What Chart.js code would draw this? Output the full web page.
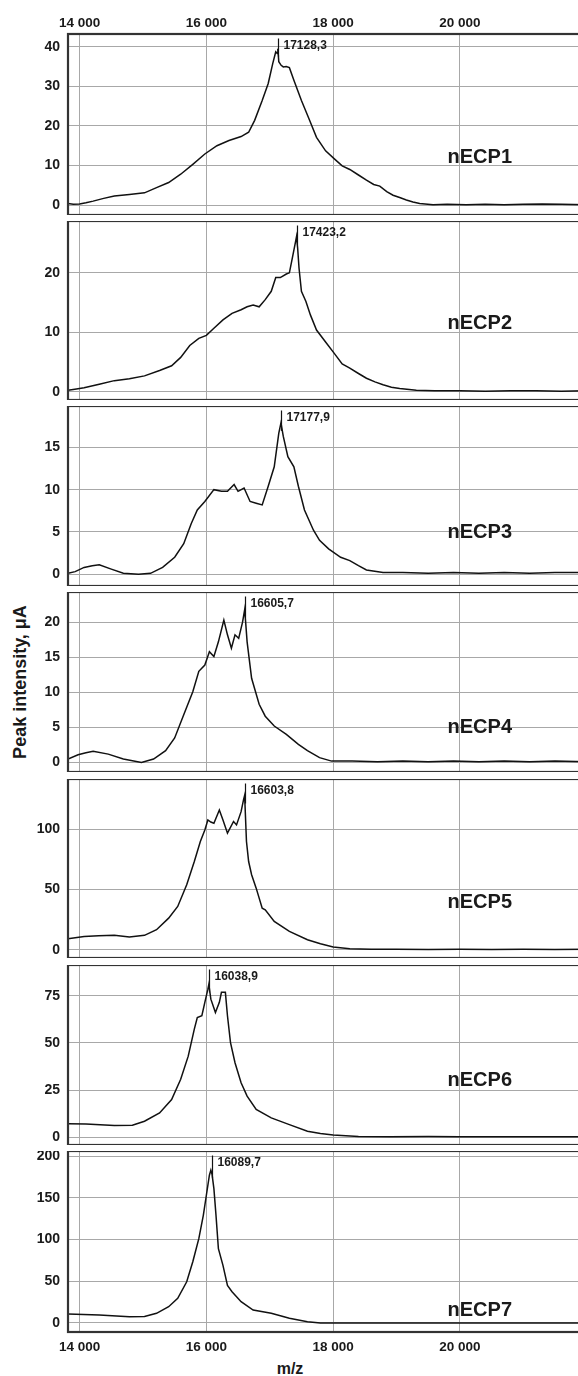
<!DOCTYPE html>
<html>
<head>
<meta charset="utf-8">
<script src="https://cdn.jsdelivr.net/npm/chart.js@4.4.1/dist/chart.umd.min.js"></script>
<style>
  body { margin: 0; background: #fff; }
  #wrap { position: relative; width: 578px; height: 1376px; overflow: hidden; background: #fff; }
  #wrap canvas { position: absolute; left: 0; }
  .lbl { position: absolute; font-family: "Liberation Sans", Arial, sans-serif; font-weight: bold; color: #1a1a1a; white-space: nowrap; }
  #ylabel { left: -130px; top: 672px; width: 300px; height: 20px; line-height: 20px; font-size: 18px; text-align: center; transform: rotate(-90deg); }
  #xlabel { left: 260px; top: 1360px; width: 60px; line-height: 18px; font-size: 16px; text-align: center; }
</style>
</head>
<body>
<div id="wrap">
  <div id="ylabel" class="lbl">Peak intensity, μA</div>
  <div id="xlabel" class="lbl">m/z</div>
</div>
<script>
// spectra (m/z, intensity)
const mz1 = [13817, 13900, 14000, 14100, 14214, 14380, 14548, 14786, 15024, 15214, 15405, 15595, 15786, 15976, 16167, 16357, 16548, 16667, 16762, 16881, 16976, 17048, 17095, 17119, 17128, 17143, 17180, 17214, 17260, 17310, 17381, 17500, 17619, 17738, 17881, 18024, 18143, 18263, 18400, 18526, 18640, 18736, 18846, 18946, 19050, 19156, 19260, 19366, 19576, 19800, 20100, 20400, 20700, 21000, 21300, 21600, 21990];
const int1 = [0.4, 0.2, 0.3, 0.6, 1.0, 1.7, 2.3, 2.7, 3.1, 4.4, 5.7, 7.8, 10.3, 12.9, 15.0, 16.3, 17.3, 18.4, 21.4, 26.4, 30.7, 35.8, 38.7, 38.3, 39.5, 36.2, 35.3, 34.9, 35.0, 34.7, 31.5, 26.4, 21.8, 17.1, 13.7, 11.6, 9.9, 9.0, 7.6, 6.3, 5.2, 4.8, 3.4, 2.5, 1.9, 1.3, 0.8, 0.4, 0.1, 0.2, 0.1, 0.2, 0.1, 0.2, 0.3, 0.2, 0.1];

const mz2 = [13817, 13950, 14071, 14310, 14548, 14786, 15024, 15262, 15452, 15595, 15738, 15881, 16000, 16119, 16262, 16405, 16548, 16643, 16738, 16833, 16929, 17024, 17095, 17167, 17262, 17310, 17357, 17405, 17423, 17440, 17462, 17500, 17571, 17643, 17738, 17881, 18024, 18143, 18263, 18400, 18526, 18660, 18788, 18920, 19051, 19313, 19600, 20000, 20400, 20800, 21200, 21600, 21990];
const int2 = [0.3, 0.5, 0.7, 1.3, 1.9, 2.2, 2.7, 3.6, 4.4, 5.8, 7.8, 9.0, 9.5, 10.7, 12.1, 13.2, 13.8, 14.3, 14.6, 14.3, 15.5, 16.9, 19.2, 19.2, 19.8, 20.0, 22.5, 25.1, 26.1, 24.2, 20.8, 16.9, 15.2, 12.9, 10.4, 8.4, 6.4, 4.7, 4.0, 3.1, 2.3, 1.7, 1.2, 0.8, 0.6, 0.3, 0.2, 0.2, 0.1, 0.2, 0.2, 0.1, 0.2];

const mz3 = [13817, 13930, 14071, 14200, 14310, 14500, 14690, 14929, 15119, 15310, 15500, 15643, 15762, 15857, 15976, 16119, 16238, 16333, 16438, 16500, 16595, 16690, 16786, 16881, 16976, 17071, 17143, 17177, 17214, 17286, 17381, 17452, 17548, 17690, 17786, 17929, 18119, 18263, 18400, 18526, 18788, 19100, 19500, 19900, 20300, 20700, 21100, 21500, 21990];
const int3 = [0.1, 0.3, 0.8, 1.0, 1.1, 0.6, 0.1, 0.0, 0.1, 0.8, 2.0, 3.6, 6.0, 7.6, 8.6, 10.0, 9.8, 9.8, 10.6, 9.8, 10.2, 8.6, 8.4, 8.2, 10.4, 12.7, 16.7, 17.9, 16.3, 13.9, 12.7, 10.4, 7.6, 5.2, 4.0, 3.0, 2.0, 1.6, 1.0, 0.5, 0.2, 0.2, 0.1, 0.2, 0.1, 0.2, 0.1, 0.2, 0.2];

const mz4 = [13817, 13976, 14100, 14214, 14452, 14690, 14976, 15167, 15357, 15500, 15643, 15786, 15881, 15976, 16048, 16119, 16190, 16276, 16333, 16395, 16452, 16510, 16571, 16605, 16643, 16714, 16833, 16929, 17071, 17262, 17452, 17595, 17786, 17976, 18300, 18700, 19100, 19500, 19900, 20300, 20700, 21100, 21500, 21990];
const int4 = [0.5, 1.1, 1.4, 1.6, 1.2, 0.5, 0.0, 0.5, 1.7, 3.5, 6.8, 10.1, 13.0, 13.9, 15.8, 15.1, 17.2, 20.3, 18.2, 16.3, 18.2, 17.7, 20.0, 21.8, 17.2, 12.0, 8.3, 6.6, 5.2, 4.0, 2.6, 1.7, 0.7, 0.2, 0.2, 0.1, 0.2, 0.1, 0.2, 0.1, 0.2, 0.1, 0.2, 0.1];

const mz5 = [13817, 14071, 14300, 14548, 14786, 15024, 15214, 15405, 15548, 15690, 15810, 15905, 15976, 16024, 16070, 16119, 16205, 16262, 16333, 16429, 16476, 16548, 16586, 16604, 16633, 16667, 16714, 16786, 16881, 16929, 17071, 17310, 17595, 17800, 18001, 18263, 18600, 19000, 19500, 20000, 20500, 21000, 21500, 21990];
const int5 = [9.1, 11.0, 11.5, 11.9, 10.5, 11.9, 16.6, 26.2, 35.9, 53.9, 73.2, 89.8, 99.4, 107.7, 106.0, 105.0, 116.0, 107.7, 96.7, 106.4, 103.6, 114.6, 124.3, 128.0, 89.8, 73.2, 62.2, 51.1, 34.5, 33.1, 23.5, 15.2, 8.3, 5.0, 2.2, 0.8, 0.3, 0.3, 0.2, 0.3, 0.2, 0.3, 0.2, 0.3];

const mz6 = [13817, 14100, 14548, 14833, 15024, 15262, 15452, 15595, 15714, 15810, 15857, 15929, 15976, 16024, 16039, 16071, 16143, 16205, 16238, 16300, 16333, 16381, 16452, 16548, 16643, 16786, 17024, 17310, 17595, 17800, 18001, 18400, 18900, 19500, 20000, 20500, 21000, 21500, 21990];
const int6 = [7.2, 7.0, 6.2, 6.4, 8.5, 12.9, 20.0, 30.7, 43.0, 57.3, 63.5, 64.4, 71.5, 78.5, 81.0, 73.2, 66.1, 71.5, 76.8, 76.8, 64.4, 50.2, 39.5, 28.9, 21.8, 14.7, 10.3, 6.7, 3.2, 2.0, 1.2, 0.4, 0.3, 0.4, 0.3, 0.3, 0.3, 0.3, 0.3];

const mz7 = [13817, 14310, 14786, 15024, 15214, 15405, 15548, 15690, 15786, 15881, 15952, 16000, 16048, 16071, 16090, 16119, 16152, 16190, 16262, 16333, 16405, 16548, 16738, 17024, 17310, 17595, 17800, 18200, 18800, 19400, 20000, 20600, 21200, 21990];
const int7 = [10.8, 9.6, 7.5, 7.8, 11.6, 19.5, 29.5, 49.4, 73.3, 101.0, 129.0, 153.0, 177.0, 183.0, 178.0, 161.0, 129.0, 89.0, 69.0, 45.0, 37.5, 25.5, 15.5, 11.6, 5.6, 1.6, 0.0, 0.0, 0.0, 0.0, 0.0, 0.0, 0.0, 0.0];

const sampleNames = ['nECP1', 'nECP2', 'nECP3', 'nECP4', 'nECP5', 'nECP6', 'nECP7'];
const peakMz = [17128.3, 17423.2, 17177.9, 16605.7, 16603.8, 16038.9, 16089.7];
const peakInt = [39.5, 26.1, 17.9, 21.8, 128.0, 81.0, 183.0];
const yMin = [-2.5, -1.35, -1.4, -1.35, -6.9, -4.1, -10.8];
const yMax = [43.2, 28.7, 19.9, 24.3, 141.7, 91.3, 206];
const yTicks1 = [0, 10, 20, 30, 40];
const yTicks2 = [0, 10, 20];
const yTicks3 = [0, 5, 10, 15];
const yTicks4 = [0, 5, 10, 15, 20];
const yTicks5 = [0, 50, 100];
const yTicks6 = [0, 25, 50, 75];
const yTicks7 = [0, 50, 100, 150, 200];
const xTicks = [14000, 16000, 18000, 20000];

const allMz = [mz1, mz2, mz3, mz4, mz5, mz6, mz7];
const allInt = [int1, int2, int3, int4, int5, int6, int7];
const allYTicks = [yTicks1, yTicks2, yTicks3, yTicks4, yTicks5, yTicks6, yTicks7];

// layout (pixels)
const areaTop = [34, 221, 406, 592, 779, 965, 1151];
const areaBottom = [215, 400, 586, 772, 958, 1145, 1332];
const nameOffset = [123, 102, 126, 135, 123, 115, 159];

const FONT = '"Liberation Sans", Arial, sans-serif';
const wrap = document.getElementById('wrap');

function fmtMz(v) {
    return String(v).replace(/\B(?=(\d{3})+(?!\d))/g, ' ');
}

function makePanel(i) {
    const first = i === 0;
    const last = i === 6;
    const top = first ? 0 : areaTop[i];
    const bottom = last ? 1376 : areaBottom[i];

    const canvas = document.createElement('canvas');
    canvas.width = 590;
    canvas.height = bottom - top;
    canvas.style.top = top + 'px';
    wrap.appendChild(canvas);

    const decor = {
        id: 'decor' + i,
        afterDraw(chart) {
            const c = chart.ctx;
            const a = chart.chartArea;
            const xs = chart.scales.x;
            const ys = chart.scales.y;
            c.save();
            // frame
            c.strokeStyle = '#333';
            c.lineWidth = 2.2;
            c.strokeRect(a.left, a.top, a.right - a.left, a.bottom - a.top);
            // peak marker
            const px = Math.round(xs.getPixelForValue(peakMz[i])) + 0.5;
            c.strokeStyle = '#111';
            c.lineWidth = 1.2;
            c.beginPath();
            c.moveTo(px, a.top + 4.5);
            c.lineTo(px, ys.getPixelForValue(peakInt[i]) + 8);
            c.stroke();
            c.fillStyle = '#1a1a1a';
            c.font = 'bold 12px ' + FONT;
            c.textBaseline = 'middle';
            c.textAlign = 'left';
            c.fillText(String(peakMz[i]).replace('.', ','), px + 5, a.top + 12);
            // sample name
            c.font = 'bold 20px ' + FONT;
            c.textAlign = 'right';
            c.fillText(sampleNames[i], 512, a.top + nameOffset[i]);
            c.restore();
        }
    };

    new Chart(canvas.getContext('2d'), {
        type: 'line',
        data: {
            datasets: [{
                data: allMz[i].map((m, k) => ({ x: m, y: allInt[i][k] })),
                borderColor: '#111',
                borderWidth: 1.5,
                pointRadius: 0,
                tension: 0,
                fill: false
            }]
        },
        options: {
            responsive: false,
            animation: false,
            events: [],
            layout: { autoPadding: false, padding: { left: 0, right: 4, top: 0, bottom: 0 } },
            plugins: { legend: { display: false }, tooltip: { enabled: false } },
            scales: {
                x: {
                    type: 'linear',
                    position: first ? 'top' : 'bottom',
                    min: 13817,
                    max: 21990,
                    afterFit: s => {
                        s.height = first ? 34 : (last ? 44 : 0);
                        s.paddingLeft = 0; s.paddingRight = 0;
                    },
                    afterBuildTicks: s => { s.ticks = xTicks.map(v => ({ value: v })); },
                    grid: { color: '#a8a8a8', lineWidth: 1, drawTicks: false },
                    border: { display: false },
                    ticks: {
                        display: first || last,
                        autoSkip: false,
                        maxRotation: 0,
                        padding: first ? 3 : 7,
                        color: '#1a1a1a',
                        font: { family: FONT, size: 13.5, weight: 'bold' },
                        callback: v => fmtMz(v)
                    }
                },
                y: {
                    min: yMin[i],
                    max: yMax[i],
                    afterFit: s => {
                        s.width = 68;
                        s.paddingTop = 0; s.paddingBottom = 0;
                    },
                    afterBuildTicks: s => { s.ticks = allYTicks[i].map(v => ({ value: v })); },
                    grid: { color: '#a8a8a8', lineWidth: 1, drawTicks: false },
                    border: { display: false },
                    ticks: {
                        autoSkip: false,
                        padding: 8,
                        color: '#1a1a1a',
                        font: { family: FONT, size: 14, weight: 'bold' }
                    }
                }
            }
        },
        plugins: [decor]
    });
}

for (let i = 0; i < 7; i++) {
    makePanel(i);
}
</script>
</body>
</html>
